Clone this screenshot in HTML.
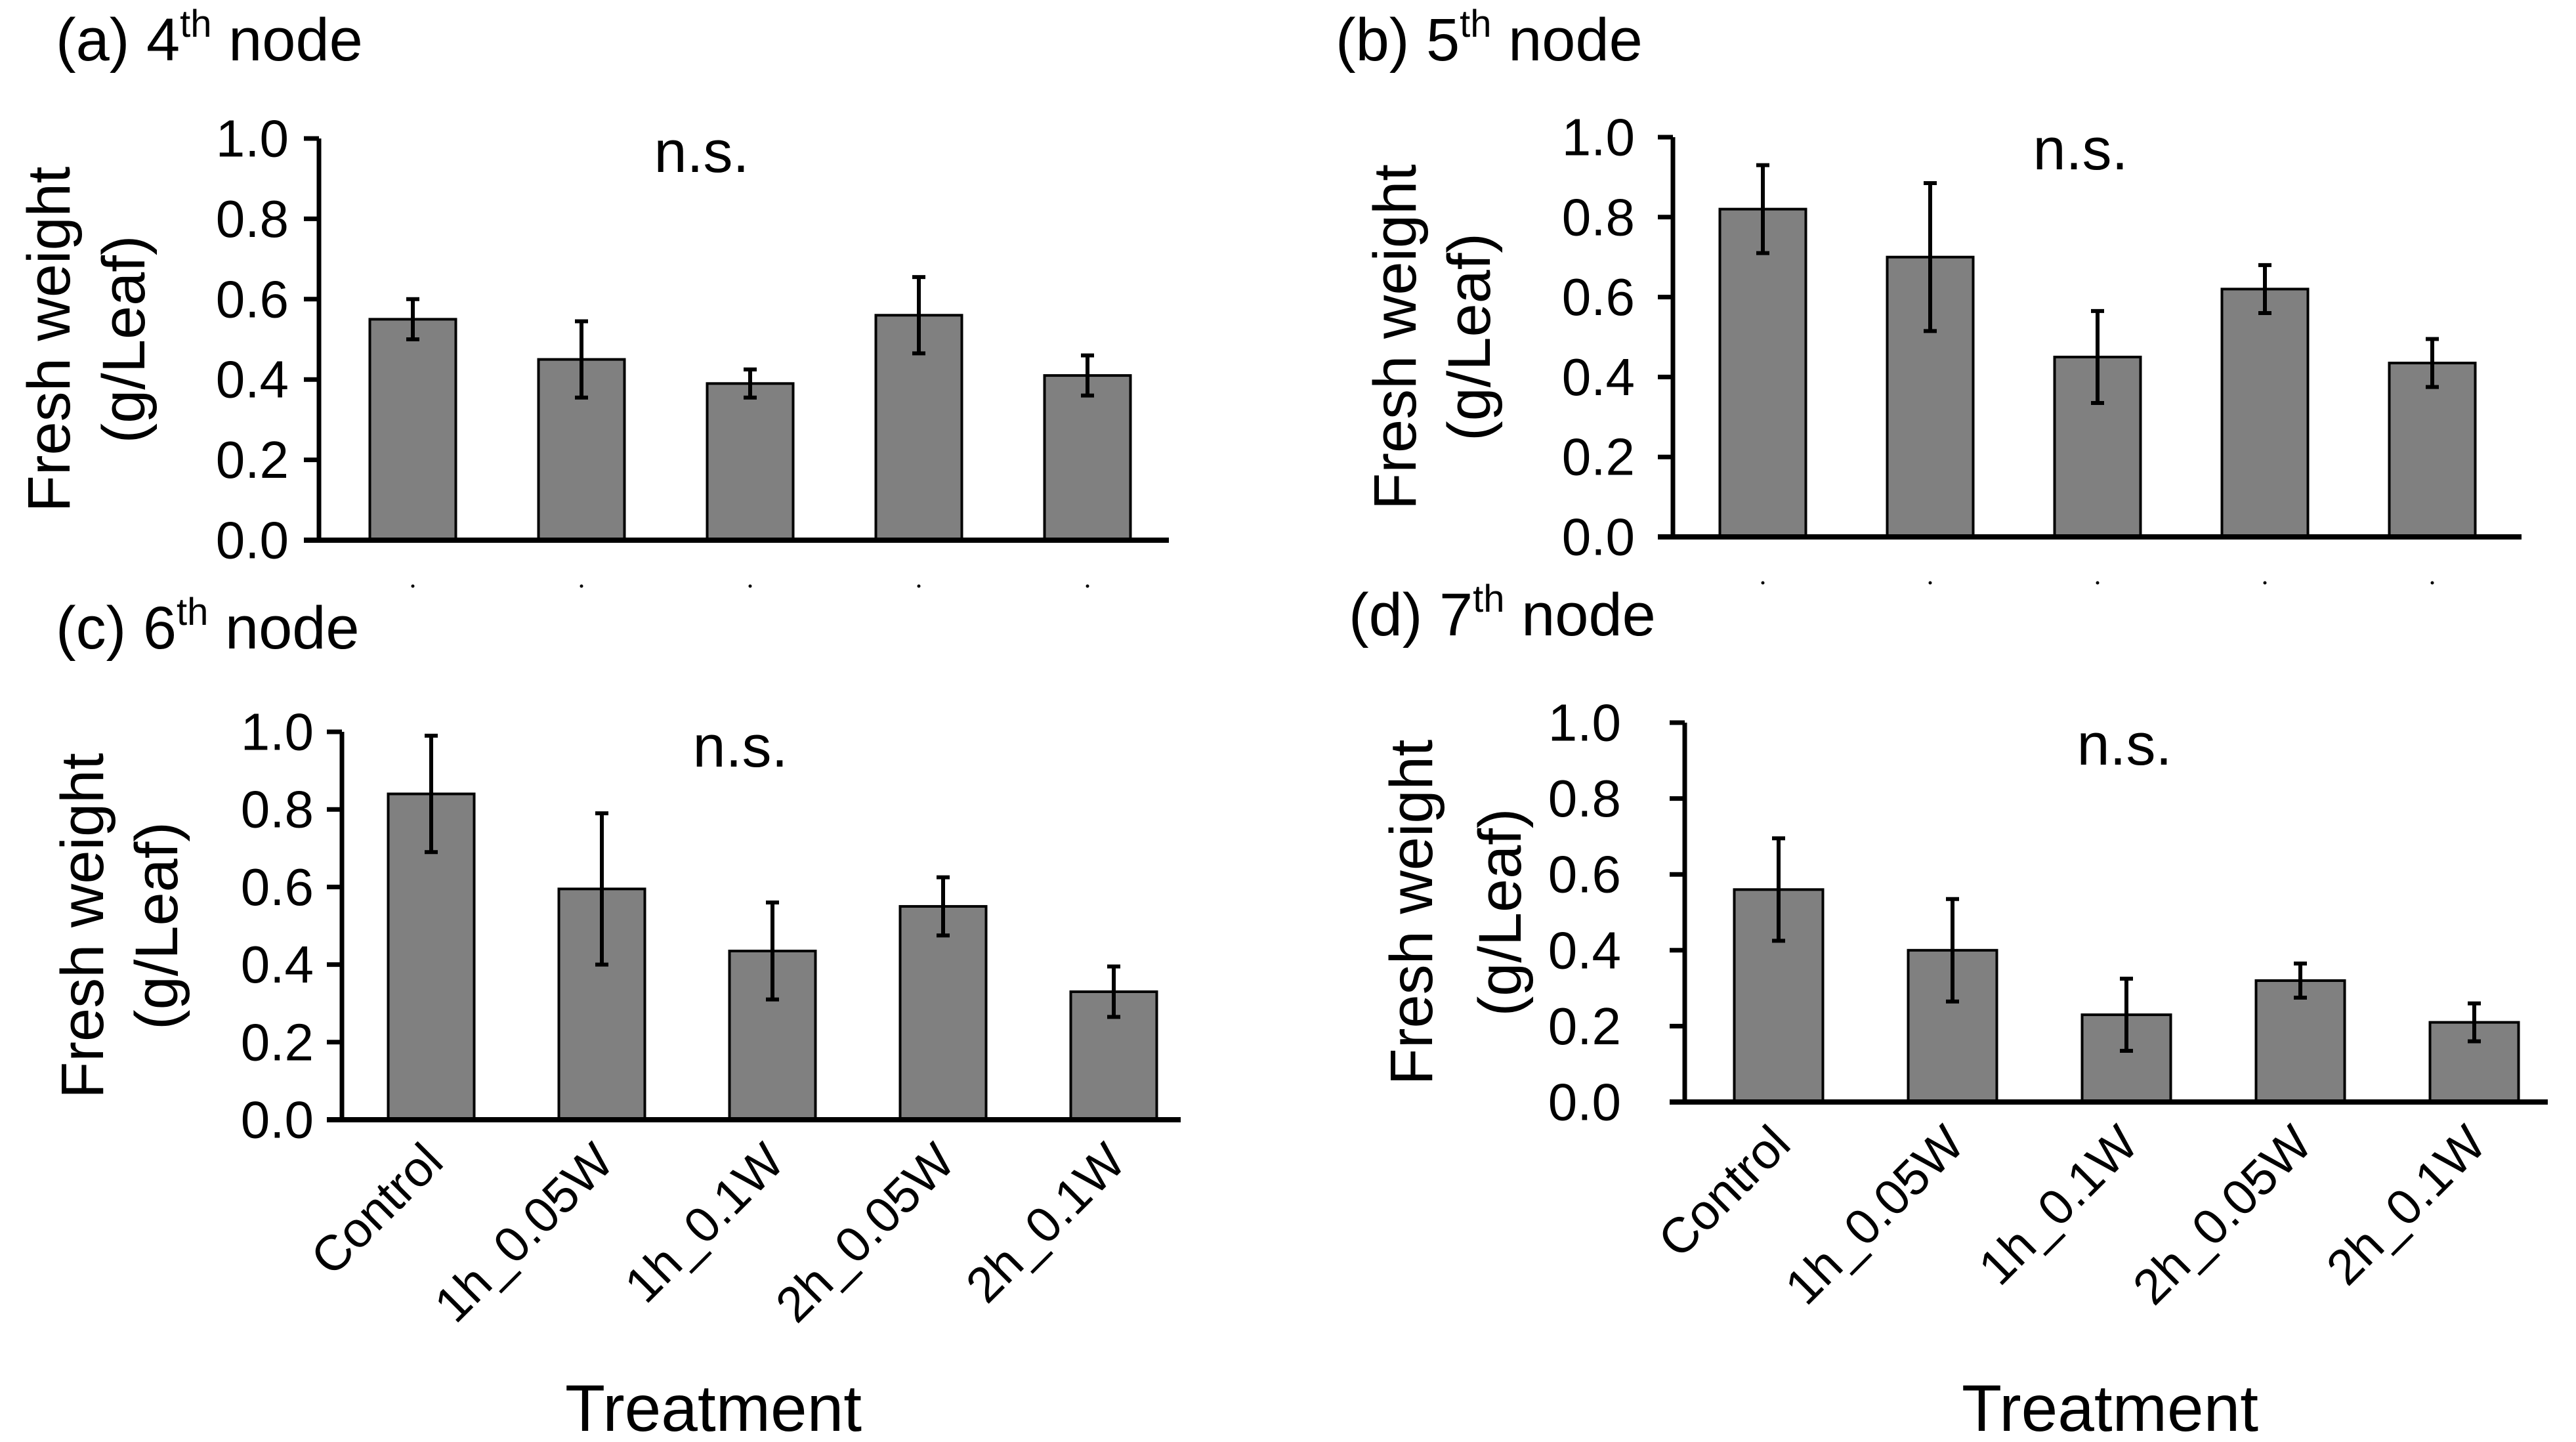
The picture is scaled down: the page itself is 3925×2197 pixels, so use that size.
<!DOCTYPE html>
<html><head><meta charset="utf-8">
<style>
html,body{margin:0;padding:0;background:#fff;}
svg{display:block;font-family:"Liberation Sans",sans-serif;}
</style></head>
<body>
<svg id="fig" width="3925" height="2197" viewBox="0 0 3925 2197" xmlns="http://www.w3.org/2000/svg"></svg>
<script>
const categories = ["Control","1h_0.05W","1h_0.1W","2h_0.05W","2h_0.1W"];
const yTicks = [0.0,0.2,0.4,0.6,0.8,1.0];
const tickLabels = ["0.0","0.2","0.4","0.6","0.8","1.0"];
const meansA = [0.55,0.45,0.39,0.56,0.41];
const errA = [0.05,0.095,0.035,0.095,0.05];
const meansB = [0.82,0.70,0.45,0.62,0.435];
const errB = [0.11,0.185,0.115,0.06,0.06];
const meansC = [0.84,0.595,0.435,0.55,0.33];
const errC = [0.15,0.195,0.125,0.075,0.065];
const meansD = [0.56,0.40,0.23,0.32,0.21];
const errD = [0.135,0.135,0.095,0.045,0.05];

const NS="http://www.w3.org/2000/svg";
const svg=document.getElementById('fig');
function mk(tag,attrs,parent,text){
  const e=document.createElementNS(NS,tag);
  for(const k in attrs) e.setAttribute(k,attrs[k]);
  if(text!==undefined) e.textContent=text;
  (parent||svg).appendChild(e);
  return e;
}
const panels=[
 {id:'a',title:'(a) 4',tx:85,ty:92,x0:486,x1:1781,c0:629,sp:257,bw:131,lr:440,y0:823,y1:211,means:meansA,err:errA,yt1:75,yt2:189,ns:[1069,262],labels:false},
 {id:'b',title:'(b) 5',tx:2035,ty:92,x0:2549,x1:3842,c0:2686,sp:255,bw:131,lr:2491,y0:818,y1:209,means:meansB,err:errB,yt1:2126,yt2:2239,ns:[3170,258],labels:false},
 {id:'c',title:'(c) 6',tx:85,ty:988,x0:521,x1:1799,c0:657,sp:260,bw:131,lr:478,y0:1706,y1:1115,means:meansC,err:errC,yt1:126,yt2:239,ns:[1128,1168],labels:true},
 {id:'d',title:'(d) 7',tx:2055,ty:968,x0:2567,x1:3882,c0:2710,sp:265,bw:135,lr:2470,y0:1679,y1:1101,means:meansD,err:errD,yt1:2151,yt2:2286,ns:[3237,1165],labels:true}
];
panels.forEach(p=>{
  const g=mk('g',{});
  
  
  const yS=v=>p.y0+(p.y1-p.y0)*v;
  const xC=i=>p.c0+i*p.sp;
  const t=mk('text',{x:p.tx,y:p.ty,'font-size':92},g);
  
  
  t.textContent=p.title;
  mk('tspan',{dy:-36,'font-size':58},t,'th');
  mk('tspan',{dy:36,'font-size':92},t,' node');
  const cy=(p.y0+p.y1)/2;
  const yt=mk('text',{x:p.yt1,y:cy,transform:`rotate(-90 ${p.yt1} ${cy})`,'text-anchor':'middle','dominant-baseline':'central','font-size':92},g,'Fresh weight');
  
  
  const yt2=mk('text',{x:p.yt2,y:cy,transform:`rotate(-90 ${p.yt2} ${cy})`,'text-anchor':'middle','dominant-baseline':'central','font-size':92},g,'(g/Leaf)');
  
  
  p.means.forEach((v,i)=>{
    const w=p.bw;
    const r=mk('rect',{x:xC(i)-w/2,y:yS(v),width:w,height:p.y0-yS(v),fill:'#808080',stroke:'#000','stroke-width':4},g);
    
    
    const e=p.err[i];
    const eg=mk('g',{stroke:'#000','stroke-width':6},g);
    
    
    mk('line',{x1:xC(i),x2:xC(i),y1:yS(v+e),y2:yS(v-e)},eg);
    mk('line',{x1:xC(i)-10,x2:xC(i)+10,y1:yS(v+e),y2:yS(v+e)},eg);
    mk('line',{x1:xC(i)-10,x2:xC(i)+10,y1:yS(v-e),y2:yS(v-e)},eg);
    if(p.labels){
      const lx=xC(i)+22, ly=p.y0+68;
      const lt=mk('text',{x:lx,y:ly,transform:`rotate(-45 ${lx} ${ly})`,'text-anchor':'end','font-size':76},g,categories[i]);
      
      
    } else {
      mk('circle',{cx:xC(i),cy:p.y0+70,r:2.5,fill:'#000'},g);
    }
  });
  const ax=mk('line',{x1:p.x0,x2:p.x0,y1:p.y1,y2:p.y0,stroke:'#000','stroke-width':7},g);
  
  
  const xa=mk('line',{x1:p.x0-23,x2:p.x1,y1:p.y0,y2:p.y0,stroke:'#000','stroke-width':8},g);
  
  
  yTicks.forEach((v,k)=>{
    mk('line',{x1:p.x0-23,x2:p.x0,y1:yS(v),y2:yS(v),stroke:'#000','stroke-width':7},g);
    const tl=mk('text',{x:p.lr,y:yS(v),'text-anchor':'end','dominant-baseline':'central','font-size':80},g,tickLabels[k]);
    
    
  });
  const ns=mk('text',{x:p.ns[0],y:p.ns[1],'text-anchor':'middle','font-size':90},g,'n.s.');
  
  
  if(p.labels){
    const tr=mk('text',{x:p.id==='c'?1087:3215,y:2180,'text-anchor':'middle','font-size':100},g,'Treatment');
    
    
  }
});
</script>
</body></html>
